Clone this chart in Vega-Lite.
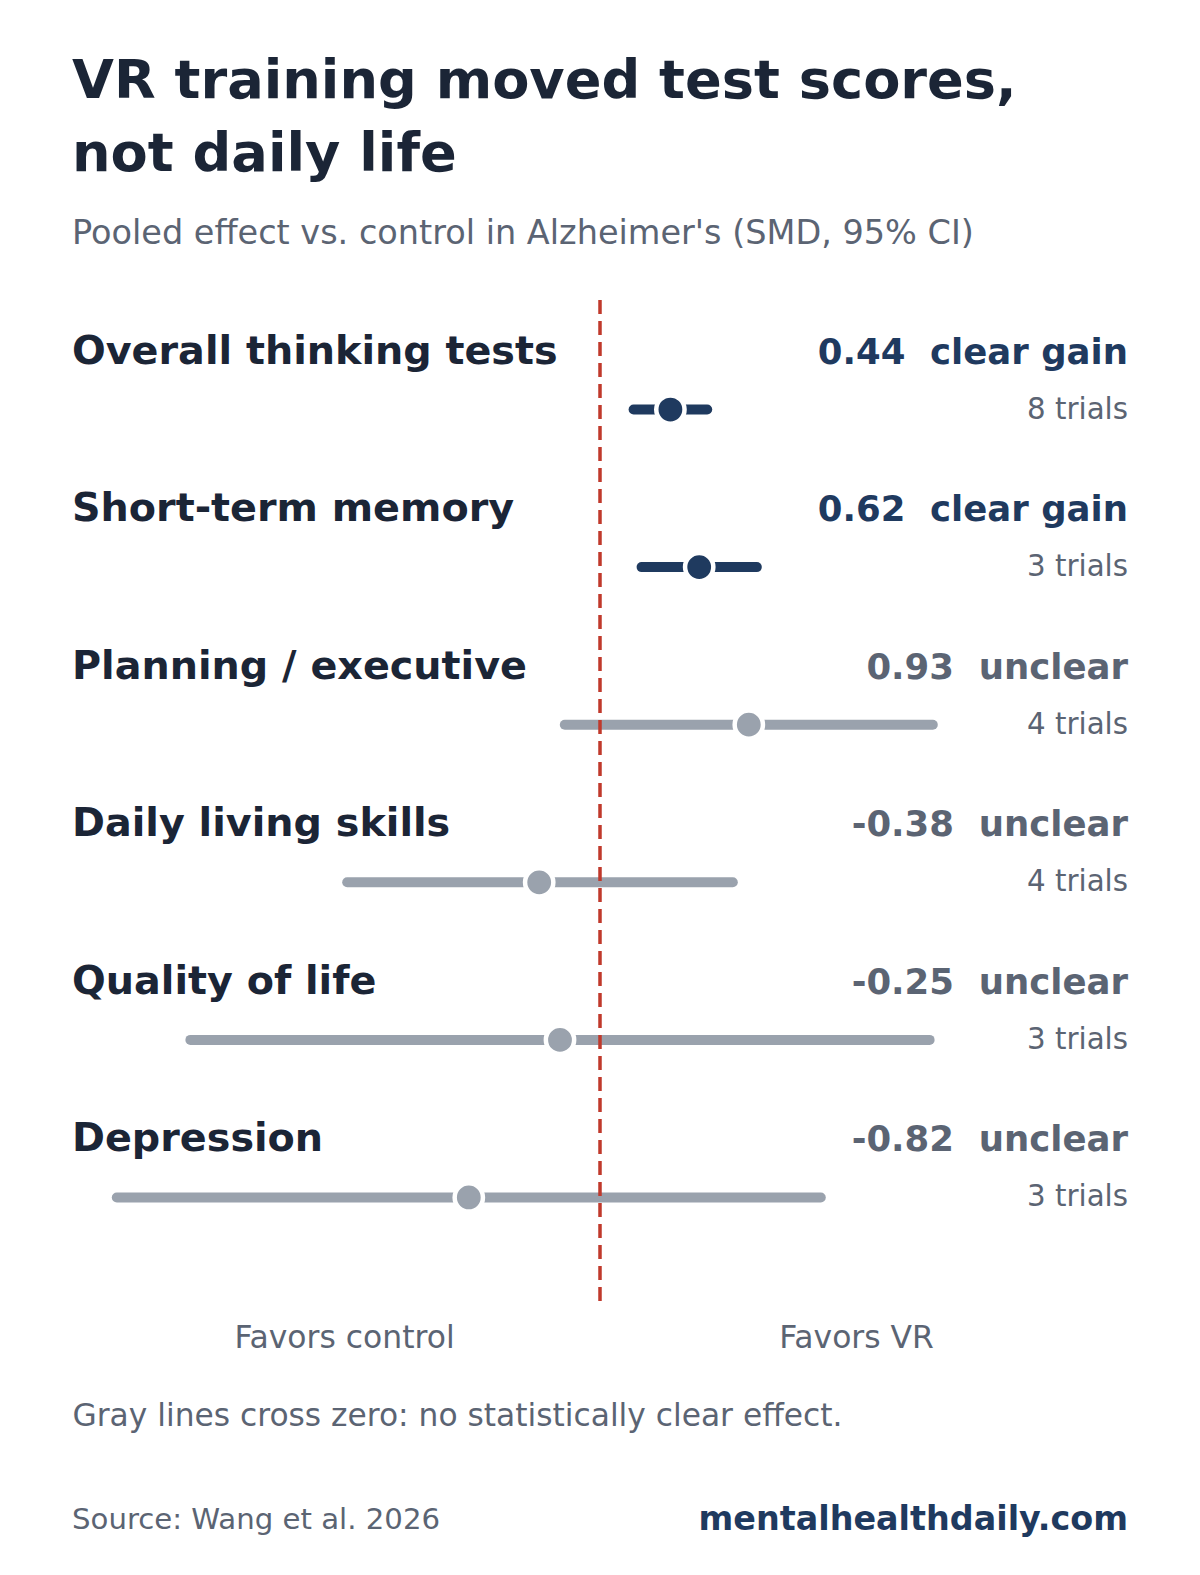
{
  "$schema": "https://vega.github.io/schema/vega-lite/v6.json",
  "background": "white",
  "padding": {"left": 72, "right": 72, "top": 54, "bottom": 34},
  "title": {
    "text": ["VR training moved test scores,", "not daily life"],
    "subtitle": "Pooled effect vs. control in Alzheimer's (SMD, 95% CI)",
    "anchor": "start",
    "frame": "group",
    "font": "DejaVu Sans",
    "fontSize": 54.2,
    "fontWeight": "bold",
    "color": "#1b2536",
    "lineHeight": 73,
    "subtitleFont": "DejaVu Sans",
    "subtitleFontSize": 33.5,
    "subtitleFontWeight": "normal",
    "subtitleColor": "#5b6473",
    "subtitlePadding": 36,
    "offset": 48
  },
  "spacing": 68,
  "vconcat": [
    {
      "width": 1056,
      "height": 1007,
      "data": {
        "values": [
          {"label": "Overall thinking tests", "est": 0.44, "lo": 0.21, "hi": 0.67, "sig": "clear gain", "note": "0.44\u00a0 clear gain", "trials": "8 trials"},
          {"label": "Short-term memory", "est": 0.62, "lo": 0.26, "hi": 0.98, "sig": "clear gain", "note": "0.62\u00a0 clear gain", "trials": "3 trials"},
          {"label": "Planning / executive", "est": 0.93, "lo": -0.22, "hi": 2.08, "sig": "unclear", "note": "0.93\u00a0 unclear", "trials": "4 trials"},
          {"label": "Daily living skills", "est": -0.38, "lo": -1.58, "hi": 0.83, "sig": "unclear", "note": "-0.38\u00a0 unclear", "trials": "4 trials"},
          {"label": "Quality of life", "est": -0.25, "lo": -2.56, "hi": 2.06, "sig": "unclear", "note": "-0.25\u00a0 unclear", "trials": "3 trials"},
          {"label": "Depression", "est": -0.82, "lo": -3.02, "hi": 1.38, "sig": "unclear", "note": "-0.82\u00a0 unclear", "trials": "3 trials"}
        ]
      },
      "layer": [
        {
          "mark": {"type": "rule", "strokeWidth": 10, "strokeCap": "round"},
          "encoding": {
            "x": {
              "field": "lo", "type": "quantitative",
              "scale": {"domain": [-3.3, 3.3], "nice": false, "zero": false},
              "axis": {
                "values": [-1.6, 1.6],
                "labelExpr": "datum.value < 0 ? 'Favors control' : 'Favors VR'",
                "ticks": false, "domain": false, "grid": false,
                "labelFont": "DejaVu Sans", "labelFontSize": 31.4, "labelColor": "#5b6473",
                "labelPadding": 15, "labelFlush": false, "labelLimit": 0, "labelOverlap": false,
                "title": "Gray lines cross zero: no statistically clear effect.",
                "titleFont": "DejaVu Sans", "titleFontSize": 31.3, "titleFontWeight": "normal",
                "titleColor": "#5b6473", "titleAnchor": "start", "titleAlign": "left",
                "titlePadding": 47
              }
            },
            "x2": {"field": "hi"},
            "y": {"field": "label", "type": "nominal", "sort": null,
                  "scale": {"paddingInner": 0, "paddingOuter": 0.195}, "axis": null},
            "color": {"condition": {"test": "datum.sig === 'clear gain'", "value": "#1f3a5f"}, "value": "#9aa2ad"}
          }
        },
        {
          "data": {"values": [{}]},
          "mark": {"type": "rule", "color": "#c0392b", "strokeWidth": 3.5, "strokeDash": [14, 7]},
          "encoding": {"x": {"datum": 0}}
        },
        {
          "mark": {"type": "circle", "size": 800, "opacity": 1, "stroke": "white", "strokeWidth": 4.5},
          "encoding": {
            "x": {"field": "est", "type": "quantitative"},
            "y": {"field": "label", "type": "nominal", "sort": null},
            "color": {"condition": {"test": "datum.sig === 'clear gain'", "value": "#1f3a5f"}, "value": "#9aa2ad"}
          }
        },
        {
          "mark": {"type": "text", "align": "left", "baseline": "alphabetic", "dy": -46, "font": "DejaVu Sans", "fontSize": 39.7, "fontWeight": "bold", "color": "#1b2536"},
          "encoding": {
            "x": {"datum": -3.3},
            "y": {"field": "label", "type": "nominal", "sort": null},
            "text": {"field": "label"}
          }
        },
        {
          "mark": {"type": "text", "align": "right", "baseline": "alphabetic", "dy": -46, "font": "DejaVu Sans", "fontSize": 35.5, "fontWeight": "bold"},
          "encoding": {
            "x": {"datum": 3.3},
            "y": {"field": "label", "type": "nominal", "sort": null},
            "text": {"field": "note"},
            "color": {"condition": {"test": "datum.sig === 'clear gain'", "value": "#1f3a5f"}, "value": "#5b6473"}
          }
        },
        {
          "mark": {"type": "text", "align": "right", "baseline": "alphabetic", "dy": 9, "font": "DejaVu Sans", "fontSize": 29.3, "color": "#5b6473"},
          "encoding": {
            "x": {"datum": 3.3},
            "y": {"field": "label", "type": "nominal", "sort": null},
            "text": {"field": "trials"}
          }
        }
      ]
    },
    {
      "width": 1056,
      "height": 40,
      "data": {
        "values": [
          {"side": "left", "text": "Source: Wang et al. 2026"},
          {"side": "right", "text": "mentalhealthdaily.com"}
        ]
      },
      "layer": [
        {
          "transform": [{"filter": "datum.side === 'left'"}],
          "mark": {"type": "text", "align": "left", "baseline": "middle", "font": "DejaVu Sans", "fontSize": 29.2, "color": "#5b6473"},
          "encoding": {
            "x": {"field": "side", "type": "nominal", "scale": {"type": "point", "padding": 0, "domain": ["left", "right"]}, "axis": null},
            "text": {"field": "text"}
          }
        },
        {
          "transform": [{"filter": "datum.side === 'right'"}],
          "mark": {"type": "text", "align": "right", "baseline": "middle", "font": "DejaVu Sans", "fontSize": 33.4, "fontWeight": "bold", "color": "#1f3a5f"},
          "encoding": {
            "x": {"field": "side", "type": "nominal"},
            "text": {"field": "text"}
          }
        }
      ]
    }
  ],
  "config": {"view": {"stroke": null}, "font": "DejaVu Sans"}
}
